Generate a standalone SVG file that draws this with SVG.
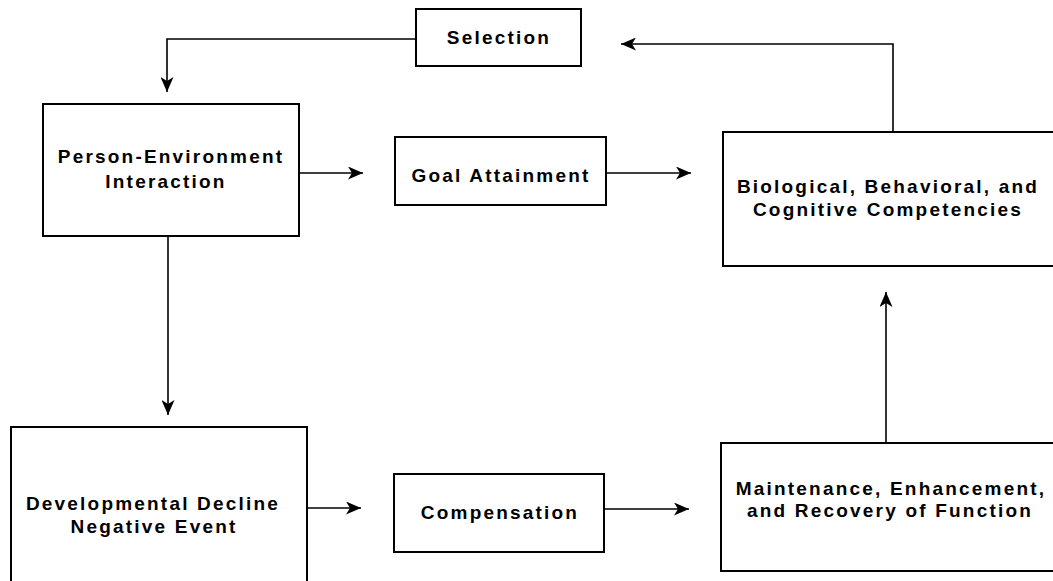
<svg xmlns="http://www.w3.org/2000/svg" width="1053" height="581" viewBox="0 0 1053 581">
<style>
.box{fill:#fff;stroke:#000;stroke-width:2}
.lbl{font-family:"Liberation Sans",Arial,sans-serif;font-weight:bold;font-size:19px;letter-spacing:2.2px;text-anchor:middle;fill:#000}
.con{fill:none;stroke:#000;stroke-width:1.6}
</style>
<defs>
<marker id="ah" markerUnits="userSpaceOnUse" viewBox="0 0 15 13" markerWidth="15" markerHeight="13" refX="15" refY="6.5" orient="auto">
<path d="M0,0 L15,6.5 L0,13 L4,6.5 z" fill="#000"/>
</marker>
</defs>
<rect width="1053" height="581" fill="#fff"/>
<g id="connectors">
<path class="con" d="M416,39 H167 V92" marker-end="url(#ah)"/>
<path class="con" d="M893,132 V44 H621" marker-end="url(#ah)"/>
<path class="con" d="M299,173 H363" marker-end="url(#ah)"/>
<path class="con" d="M606,173 H691" marker-end="url(#ah)"/>
<path class="con" d="M168,236 V415" marker-end="url(#ah)"/>
<path class="con" d="M307,508 H361" marker-end="url(#ah)"/>
<path class="con" d="M604,509 H689" marker-end="url(#ah)"/>
<path class="con" d="M886,443 V292" marker-end="url(#ah)"/>
</g>
<g id="selection">
<rect class="box" x="416" y="9" width="165" height="57"/>
<text class="lbl" x="499" y="44">Selection</text>
</g>
<g id="person-environment">
<rect class="box" x="43" y="104" width="256" height="132"/>
<text class="lbl" x="171" y="163">Person-Environment</text>
<text class="lbl" x="166" y="188">Interaction</text>
</g>
<g id="goal-attainment">
<rect class="box" x="395" y="137" width="211" height="68"/>
<text class="lbl" x="501" y="182">Goal Attainment</text>
</g>
<g id="competencies">
<rect class="box" x="723" y="132" width="340" height="134"/>
<text class="lbl" x="888" y="193">Biological, Behavioral, and</text>
<text class="lbl" x="888" y="216">Cognitive Competencies</text>
</g>
<g id="decline">
<rect class="box" x="11" y="427" width="296" height="170"/>
<text class="lbl" x="153" y="510">Developmental Decline</text>
<text class="lbl" x="154" y="533">Negative Event</text>
</g>
<g id="compensation">
<rect class="box" x="394" y="474" width="210" height="78"/>
<text class="lbl" x="500" y="519">Compensation</text>
</g>
<g id="maintenance">
<rect class="box" x="721" y="443" width="342" height="128"/>
<text class="lbl" x="891" y="495">Maintenance, Enhancement,</text>
<text class="lbl" x="890" y="517">and Recovery of Function</text>
</g>
</svg>
